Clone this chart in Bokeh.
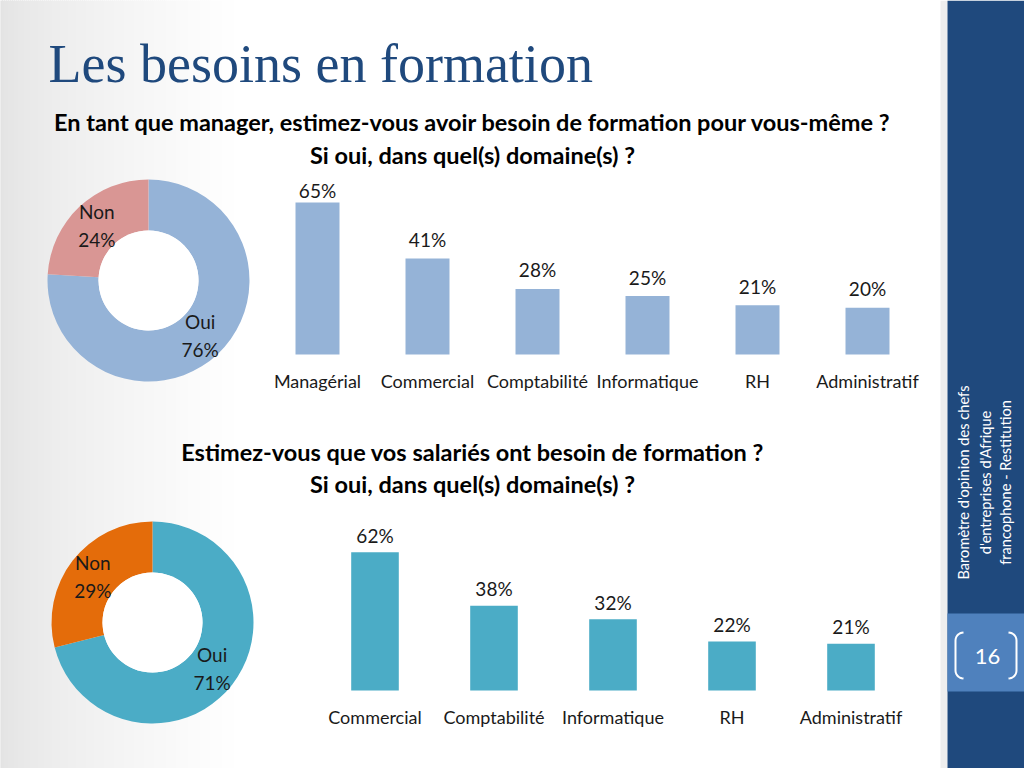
import numpy as np
from bokeh.plotting import figure
from bokeh.models import Range1d
from bokeh.core.properties import value
from bokeh.embed import file_html
from bokeh.resources import INLINE

# ---------------- data ----------------
title_text = "Les besoins en formation"
q1_lines = ["En tant que manager, estimez-vous avoir besoin de formation pour vous-même ?",
            "Si oui, dans quel(s) domaine(s) ?"]
q2_lines = ["Estimez-vous que vos salariés ont besoin de formation ?",
            "Si oui, dans quel(s) domaine(s) ?"]

donut1_labels = ["Oui", "Non"]
donut1_values = [76, 24]
donut2_labels = ["Oui", "Non"]
donut2_values = [71, 29]

bars1_categories = ["Managérial", "Commercial", "Comptabilité", "Informatique", "RH", "Administratif"]
bars1_values = [65, 41, 28, 25, 21, 20]
bars2_categories = ["Commercial", "Comptabilité", "Informatique", "RH", "Administratif"]
bars2_values = [62, 38, 32, 22, 21]

sidebar_lines = ["Baromètre d'opinion des chefs", "d'entreprises d'Afrique", "francophone - Restitution"]
page_number = "16"

# ---------------- styles ----------------
NAVY = "#1F497D"
BOX = "#4F81BD"
TXT = "#1a1a1a"
FONT = value("Lato")
donut1_colors = ["#95B3D7", "#D99694"]
donut2_colors = ["#4BACC6", "#E46C0A"]
bar1_color = "#95B3D7"
bar2_color = "#4BACC6"

W, H = 1024, 768


def Y(sy):
    return H - sy


p = figure(width=W, height=H, x_range=Range1d(0, W), y_range=Range1d(0, H),
           output_backend="svg", toolbar_location=None, title=None,
           x_axis_location=None, y_axis_location=None, min_border=0)
p.grid.visible = False
p.outline_line_color = None
p.background_fill_color = "white"
p.border_fill_color = "white"

# ---- soft gray gradient on the left edge ----
step = 2
gx = np.arange(0, 240, step)
gcols = []
for x in gx:
    t = min(1.0, x / 240.0)
    g = int(round(0xE3 + (0xFF - 0xE3) * (t ** 0.7)))
    gcols.append("#%02x%02x%02x" % (g, g, g))
p.quad(left=gx, right=gx + step, top=H + 2, bottom=-2, fill_color=gcols, line_color=gcols, line_width=1)

# ---- sidebar ----
p.quad(left=[940], right=[947], top=[H], bottom=[0], fill_color="#EEEEEE", line_color=None)
p.quad(left=[947], right=[W], top=[H], bottom=[0], fill_color=NAVY, line_color=None)
p.quad(left=[947], right=[W], top=[Y(613)], bottom=[Y(691)], fill_color=BOX, line_color=None)
p.text(x=[963, 985, 1005], y=[Y(482)] * 3, text=sidebar_lines, angle=np.pi / 2,
       text_align="center", text_baseline="middle", text_font=FONT, text_font_size="14.6px",
       text_color="white")
p.text(x=[987], y=[Y(656)], text=[page_number], text_align="center", text_baseline="middle",
       text_font=FONT, text_font_size="22px", text_color="white")
th = np.linspace(0, np.pi / 2, 8)
rb = 8
top_sy, bot_sy = 632, 678
lx0 = 955
lb_x = [lx0 + rb * (1 - np.sin(t)) for t in th] + [lx0 + rb * (1 - np.cos(t)) for t in th]
lb_y = [Y(top_sy + rb * (1 - np.cos(t))) for t in th] + [Y(bot_sy - rb * (1 - np.sin(t))) for t in th]
p.line(x=lb_x, y=lb_y, line_color="white", line_width=2)
rx0 = 1016
rb_x = [rx0 - rb * (1 - np.sin(t)) for t in th] + [rx0 - rb * (1 - np.cos(t)) for t in th]
p.line(x=rb_x, y=lb_y, line_color="white", line_width=2)

# ---- titles ----
p.text(x=[48], y=[Y(63)], text=[title_text], text_font=value("Liberation Serif"),
       text_font_size="54px", text_color=NAVY, text_baseline="middle", text_align="left")
p.text(x=[472, 472], y=[Y(121), Y(154)], text=q1_lines, text_font=FONT, text_font_style="bold",
       text_font_size="23.5px", text_color="black", text_align="center", text_baseline="middle")
p.text(x=[472, 472], y=[Y(451), Y(483)], text=q2_lines, text_font=FONT, text_font_style="bold",
       text_font_size="23.5px", text_color="black", text_align="center", text_baseline="middle")


# ---- donuts ----
def donut(values, labels, colors, cx, cy, r_in, r_out):
    start = np.pi / 2
    starts, ends, mids = [], [], []
    for v in values:
        end = start - v / 100.0 * 2 * np.pi
        starts.append(start)
        ends.append(end)
        mids.append((start + end) / 2)
        start = end
    p.annular_wedge(x=cx, y=cy, inner_radius=r_in, outer_radius=r_out,
                    start_angle=starts, end_angle=ends, direction="clock",
                    fill_color=colors, line_color=None)
    p.circle(x=cx, y=cy, radius=r_in, fill_color="white", line_color=None)
    rm = (r_in + r_out) / 2
    lx = [cx + rm * np.cos(a) for a in mids]
    ly = [cy + rm * np.sin(a) for a in mids]
    p.text(x=lx, y=ly, text=labels, y_offset=-14, text_align="center", text_baseline="middle",
           text_font=FONT, text_font_size="19px", text_color=TXT)
    p.text(x=lx, y=ly, text=[f"{v}%" for v in values], y_offset=14, text_align="center",
           text_baseline="middle", text_font=FONT, text_font_size="19px", text_color=TXT)


donut(donut1_values, donut1_labels, donut1_colors, 148, Y(280), 50, 101)
donut(donut2_values, donut2_labels, donut2_colors, 152, Y(622), 50, 101)


# ---- bar charts (each on its own scales) ----
def bars(name, cats, vals, color, left_sx, slot_px, bottom_sy, px_per_unit, label_gap, cap_sy, cat_gap):
    xr, yr = name + "_x", name + "_y"
    p.extra_x_ranges[xr] = Range1d(-left_sx / slot_px, (W - left_sx) / slot_px)
    p.extra_y_ranges[yr] = Range1d((bottom_sy - H) / px_per_unit, bottom_sy / px_per_unit)
    xs = [i + 0.5 for i in range(len(cats))]
    p.vbar(x=xs, top=vals, bottom=0, width=0.4, fill_color=color, line_color=None,
           x_range_name=xr, y_range_name=yr)
    cap = (bottom_sy - cap_sy) / px_per_unit
    label_y = [min(v + label_gap / px_per_unit, cap) for v in vals]
    p.text(x=xs, y=label_y, text=[f"{v}%" for v in vals], x_range_name=xr, y_range_name=yr,
           text_align="center", text_baseline="middle", text_font=FONT,
           text_font_size="19px", text_color=TXT)
    p.text(x=xs, y=[0] * len(cats), text=cats, y_offset=cat_gap, x_range_name=xr, y_range_name=yr,
           text_align="center", text_baseline="middle", text_font=FONT,
           text_font_size="18px", text_color=TXT)


bars("b1", bars1_categories, bars1_values, bar1_color, 262, 110, 354, 2.34, 19, 190, 26)
bars("b2", bars2_categories, bars2_values, bar2_color, 315, 119, 690, 2.23, 17, 515, 26)

open("out.html", "w").write(file_html(p, INLINE))
